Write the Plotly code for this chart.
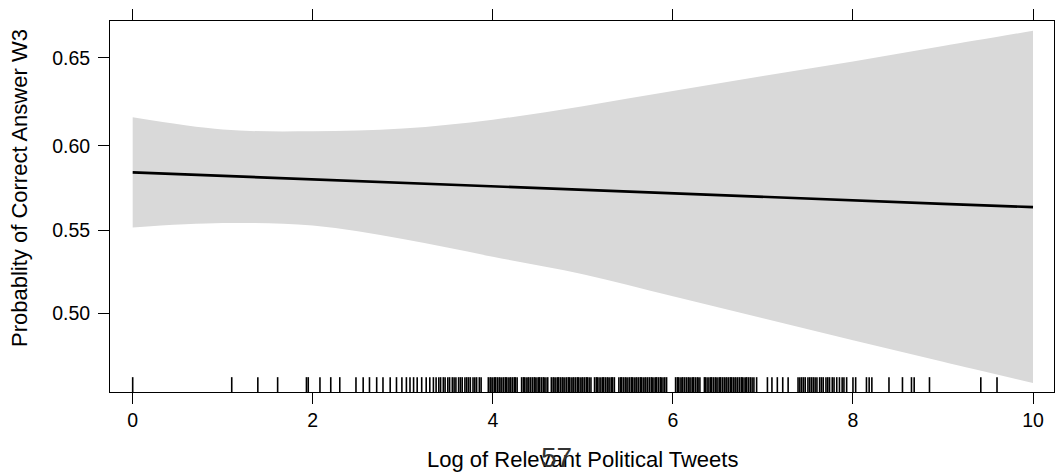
import numpy as np
import plotly.graph_objects as go

# ---- data ----
x_grid = [0, 1, 2, 3, 4, 5, 6, 7, 8, 9, 10]
fit_p = [0.5846, 0.5825, 0.5805, 0.5784, 0.5764, 0.5743, 0.5722, 0.5702, 0.5681, 0.5660, 0.5640]
upper_p = [0.6165, 0.6095, 0.6085, 0.6101, 0.6152, 0.6229, 0.6314, 0.6399, 0.6479, 0.6564, 0.6647]
lower_p = [0.5519, 0.5545, 0.5530, 0.5449, 0.5343, 0.5238, 0.5105, 0.4972, 0.4838, 0.4709, 0.4581]

rug_x = [
    0.00, 1.10, 1.39, 1.61, 1.93, 1.95, 2.08, 2.20, 2.30, 2.48, 2.56, 2.63, 2.71, 2.78,
    2.86, 2.93, 2.99, 3.04, 3.08, 3.12, 3.16, 3.21, 3.26, 3.30, 3.34, 3.37,
    3.40, 3.42, 3.45, 3.47, 3.50, 3.52, 3.55, 3.57, 3.59, 3.62, 3.64, 3.66, 3.69, 3.71,
    3.73, 3.75, 3.78, 3.80, 3.82, 3.85, 3.87,
    3.95, 3.97, 3.98, 4.00, 4.02, 4.03, 4.05, 4.07, 4.08, 4.10, 4.12, 4.14, 4.15, 4.17,
    4.19, 4.20, 4.22, 4.24, 4.25, 4.27,
    4.32, 4.34, 4.35, 4.37, 4.39, 4.40, 4.42, 4.44, 4.46, 4.47, 4.49, 4.51, 4.52, 4.54,
    4.56, 4.57, 4.59, 4.61,
    4.65, 4.67, 4.68, 4.70, 4.72, 4.73, 4.75, 4.77, 4.78, 4.80, 4.82, 4.84, 4.85, 4.87,
    4.89, 4.90, 4.92, 4.94, 4.95, 4.97, 4.99, 5.00, 5.02, 5.04, 5.05, 5.07, 5.09,
    5.13, 5.15, 5.16, 5.18, 5.20, 5.22, 5.23, 5.25, 5.27, 5.28, 5.30, 5.32, 5.33, 5.35,
    5.40, 5.42, 5.43, 5.45, 5.47, 5.48, 5.50, 5.52, 5.54, 5.55, 5.57, 5.59, 5.60, 5.62,
    5.64, 5.65, 5.67, 5.69, 5.70, 5.72, 5.74, 5.76, 5.77, 5.79, 5.81, 5.82, 5.84, 5.86,
    5.87, 5.89, 5.91, 5.93,
    6.03, 6.05, 6.06, 6.08, 6.10, 6.11, 6.13, 6.15, 6.17, 6.18, 6.20, 6.22, 6.23, 6.25,
    6.27, 6.28, 6.30,
    6.35, 6.36, 6.38, 6.40, 6.42, 6.43, 6.45, 6.47, 6.48, 6.50, 6.52, 6.53, 6.55, 6.57,
    6.59, 6.60, 6.62, 6.64, 6.65, 6.67, 6.69, 6.70, 6.72, 6.74, 6.76, 6.77, 6.79, 6.81,
    6.82, 6.84, 6.86, 6.88, 6.90, 6.93,
    7.05, 7.10, 7.16, 7.22, 7.28,
    7.39, 7.41, 7.43, 7.45, 7.47, 7.50, 7.52, 7.54, 7.56, 7.58, 7.60, 7.63, 7.65, 7.67,
    7.70, 7.72, 7.74, 7.77, 7.79, 7.82, 7.85, 7.88, 7.90, 7.93,
    8.00, 8.03, 8.15, 8.18, 8.21, 8.40, 8.55, 8.65, 8.68, 8.85, 9.42, 9.60,
]

x_ticks = [0, 2, 4, 6, 8, 10]
y_ticks = [0.50, 0.55, 0.60, 0.65]
y_tick_labels = ["0.50", "0.55", "0.60", "0.65"]

x_title = "Log of Relevant Political Tweets"
y_title = "Probablity of Correct Answer W3"
page_number = "57"


def logit(p):
    p = np.asarray(p, dtype=float)
    return np.log(p / (1 - p))


FONT = "Liberation Sans, Arial, Helvetica, sans-serif"

fig = go.Figure()

# confidence band (logit scale)
fig.add_trace(go.Scatter(x=x_grid, y=logit(lower_p), mode="lines",
                         line=dict(width=0, shape="spline", color="rgba(0,0,0,0)"),
                         showlegend=False, hoverinfo="skip"))
fig.add_trace(go.Scatter(x=x_grid, y=logit(upper_p), mode="lines",
                         line=dict(width=0, shape="spline", color="rgba(0,0,0,0)"),
                         fill="tonexty", fillcolor="#D9D9D9",
                         showlegend=False, hoverinfo="skip"))
# fitted line
fig.add_trace(go.Scatter(x=x_grid, y=logit(fit_p), mode="lines",
                         line=dict(width=2.7, color="black"),
                         showlegend=False))

# rug
rx, ry = [], []
for v in rug_x:
    rx += [v, v, None]
    ry += [0, 0.04, None]
fig.add_trace(go.Scatter(x=rx, y=ry, mode="lines", yaxis="y2",
                         line=dict(width=1.6, color="black"),
                         showlegend=False, hoverinfo="skip"))

fig.update_layout(
    width=1056, height=473,
    margin=dict(l=110, r=2, t=21, b=81),
    plot_bgcolor="white", paper_bgcolor="white",
    font=dict(family=FONT, color="black", size=19),
    xaxis=dict(range=[-0.252, 10.233], tickvals=x_ticks, ticks="outside",
               ticklen=11, tickwidth=1, tickcolor="black",
               showline=True, linecolor="black", linewidth=1, mirror="ticks",
               showgrid=False, zeroline=False,
               tickfont=dict(size=19.5, family=FONT)),
    yaxis=dict(range=[-0.1899, 0.7079], tickvals=list(logit(y_ticks)),
               ticktext=y_tick_labels, ticks="outside", ticklen=11, tickwidth=1,
               tickcolor="black", showline=True, linecolor="black", linewidth=1,
               mirror=True, showgrid=False, zeroline=False,
               tickfont=dict(size=19.5, family=FONT), ticklabelstandoff=4),
    yaxis2=dict(overlaying="y", range=[0, 1], visible=False, fixedrange=True),
    annotations=[
        dict(text=x_title, xref="paper", yref="paper", x=0.5, y=-0.1816,
             xanchor="center", yanchor="middle", showarrow=False,
             font=dict(size=22, family=FONT, color="black")),
        dict(text=y_title, xref="paper", yref="paper", x=-0.0953, y=0.55,
             xanchor="center", yanchor="middle", textangle=-90, showarrow=False,
             font=dict(size=22, family=FONT, color="black")),
        dict(text=page_number, xref="paper", yref="paper", x=0.4735, y=-0.1775,
             xanchor="center", yanchor="middle", showarrow=False,
             font=dict(size=28, family=FONT, color="#333333")),
    ],
)

fig.write_html("out.html",
               config={"displayModeBar": False},
               post_script="document.body.style.margin='0';document.body.style.padding='0';"
                           "document.documentElement.style.overflow='hidden';")
